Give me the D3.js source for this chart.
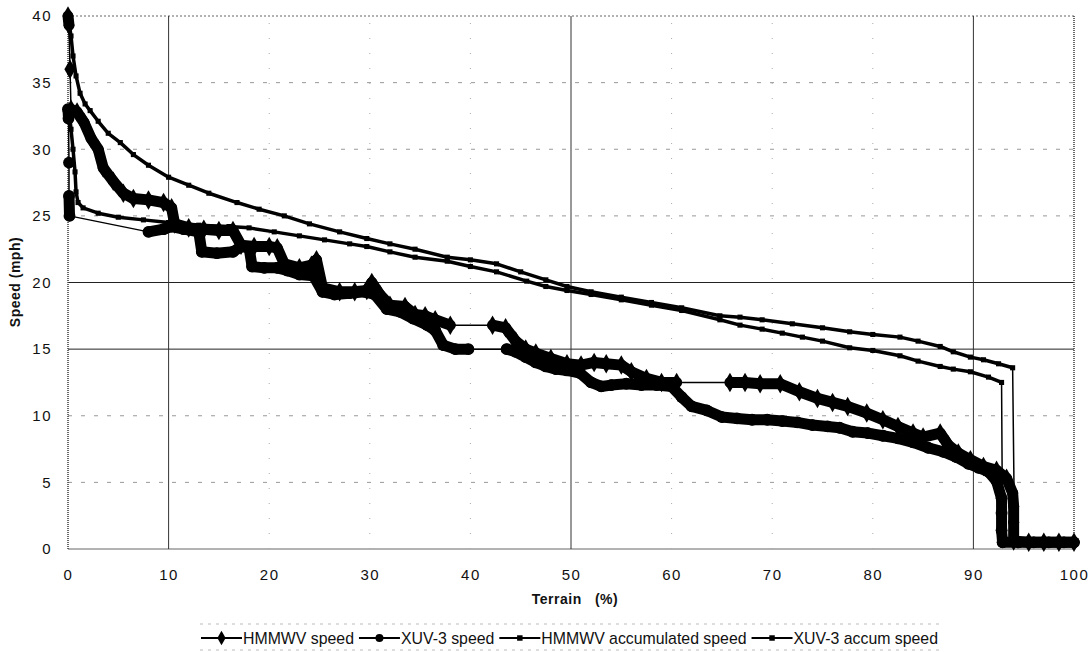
<!DOCTYPE html>
<html>
<head>
<meta charset="utf-8">
<script src="https://cdn.jsdelivr.net/npm/d3@7"></script>
<style>
  body { margin: 0; background: #fff; }
  svg { display: block; }
  .tick text { font-family: "Liberation Sans", Arial, sans-serif; font-size: 15px; letter-spacing: 1.5px; fill: #111; }
  .title { font-family: "Liberation Sans", Arial, sans-serif; font-size: 14px; font-weight: bold; fill: #111; white-space: pre; letter-spacing: 0.5px; }
  .legend text { font-family: "Liberation Sans Narrow", "Arial Narrow", "Liberation Sans", sans-serif; font-size: 17px; fill: #111; }
</style>
</head>
<body>
<div id="chart"></div>
<script>
// tick labels
var xTicks = [0, 10, 20, 30, 40, 50, 60, 70, 80, 90, 100];
var yTicks = [0, 5, 10, 15, 20, 25, 30, 35, 40];

// series: [terrain %, speed mph]
var hmmwvSpeed = [
  [0,40],[0.1,39.3],[0.2,36],[0.3,33],[0.9,32.8],[1.6,32],[2.3,30.8],[3,30],[3.5,28.6],[4.5,27.6],
  [5.5,26.7],[6.5,26.3],[8,26.2],[9.5,26],[10.3,25.6],[10.6,24.4],[12,24.1],[13.5,24],[15,23.9],[16.4,23.9],
  [17.2,22.8],[18.5,22.7],[20,22.7],[20.8,22.6],[21.5,21.4],[23,21.1],[24.2,21.3],[24.7,21.7],[25.3,19.6],[27,19.3],
  [28.5,19.3],[29.7,19.4],[30.2,20],[31,19.1],[32,18.3],[33.5,18.2],[34.5,17.6],[35.5,17.5],[36.5,17.2],[38,16.8],
  [42.2,16.8],[43.5,16.6],[44.5,15.6],[45.5,15],[46.5,14.7],[48,14.3],[49.6,13.9],[51,13.8],[52.3,14],[53.5,13.9],
  [55,13.8],[56,13.3],[57.5,12.8],[59,12.5],[60.5,12.5],[65.8,12.5],[67.3,12.5],[68.8,12.4],[70.8,12.4],[72.7,11.8],
  [74.5,11.3],[76,11],[77.5,10.7],[79.4,10.2],[81,9.7],[82.5,9.2],[84,8.7],[85,8.4],[86.7,8.7],[87.5,7.8],
  [88.5,7.2],[89.7,6.7],[91,6.2],[92.3,5.9],[93.3,5.3],[93.9,4.2],[94,3.2],[94,2],[94,0.6],[95.5,0.5],
  [97,0.5],[98.5,0.5],[100,0.5]
];
var xuvSpeed = [
  [0,33],[0.05,32.3],[0.1,29],[0.1,26.5],[0.15,25],[8,23.8],[9.5,24],[10.3,24.2],[11.5,24],[13,23.8],
  [13.3,22.3],[14.8,22.2],[16.4,22.3],[17.2,22.7],[18,22.6],[18.3,21.2],[19.5,21.1],[20.8,21.1],[21.8,20.9],[23,20.6],
  [24.4,20.5],[25.3,19.3],[26.5,19.1],[28,19.2],[29.5,19.3],[30.5,19.1],[31.7,18],[33,17.8],[34.3,17.3],[35.7,16.8],
  [36.5,16.4],[37.3,15.3],[38.5,15],[39.8,15],[43.6,15],[44.5,14.8],[45.5,14.4],[46.5,14],[47.5,13.7],[48.5,13.5],
  [49.6,13.4],[50.9,13.2],[52,12.5],[53,12.2],[54,12.3],[55.5,12.4],[57,12.3],[58.5,12.3],[60,12.2],[61,11.4],
  [62,10.7],[63.5,10.4],[65,9.9],[66.5,9.8],[68,9.7],[69.5,9.7],[71,9.6],[72.5,9.5],[74,9.3],[75.5,9.2],
  [76.7,9.1],[78,8.8],[79.5,8.7],[81,8.5],[82.5,8.3],[84,8],[85.5,7.6],[87,7.3],[88.3,6.9],[89.5,6.4],
  [90.5,6.1],[91.5,5.8],[92.3,5.1],[92.8,3.8],[92.8,2.7],[92.8,1.4],[92.9,0.5],[94.5,0.5],[96,0.5],[97.5,0.5],
  [99,0.5],[100,0.5]
];
var hmmwvAccum = [
  [0,40],[0.3,38.5],[0.5,37],[0.8,35.5],[1.2,34.2],[1.7,33.4],[2.2,32.9],[3,32.1],[4,31.2],[5.2,30.5],
  [6.5,29.6],[8,28.8],[10,27.9],[12,27.3],[14,26.7],[16.8,26],[19,25.5],[21.5,25],[24,24.4],[27,23.8],
  [29.7,23.3],[32,22.9],[34.5,22.5],[37.7,21.9],[40,21.7],[42.6,21.4],[45,20.8],[47.5,20.2],[49.6,19.7],[52,19.3],
  [55,18.9],[58,18.5],[61,18.1],[64.8,17.5],[66.8,17.4],[69,17.2],[72,16.9],[75,16.6],[77.7,16.3],[80,16.1],
  [82.7,15.9],[84.5,15.6],[86.7,15.2],[88,14.8],[89.7,14.4],[91,14.2],[92.5,13.9],[93.9,13.6],[94.1,0.5]
];
var xuvAccum = [
  [0.1,33],[0.3,31.5],[0.5,30],[0.7,28.3],[0.8,26.8],[1,26],[1.5,25.6],[3,25.2],[5,24.9],[7.5,24.7],
  [10,24.5],[13,24.3],[16,24.2],[18,24.1],[20.5,23.8],[23,23.5],[25.5,23.2],[28,22.9],[29.7,22.7],[32,22.3],
  [34.5,21.9],[37.7,21.6],[40,21.2],[42.6,20.8],[45.6,20.1],[47.5,19.7],[49.6,19.4],[52,19.1],[55,18.7],[58,18.3],
  [61,17.9],[64.8,17.2],[66.8,16.8],[69,16.5],[71,16.2],[73,15.9],[75,15.6],[77.7,15.1],[80,14.9],[82.7,14.5],
  [84.5,14.1],[86.7,13.7],[88,13.5],[89.7,13.3],[91.5,12.9],[92.8,12.5],[92.9,0.5]
];

var seriesNames = ["HMMWV speed", "XUV-3 speed", "HMMWV accumulated speed", "XUV-3 accum speed"];

var width = 1091, height = 652;
var margin = {top: 16, right: 17, bottom: 103, left: 68};

var svg = d3.select("#chart").append("svg")
    .attr("width", width)
    .attr("height", height);

var x = d3.scaleLinear().domain([0, 100]).range([margin.left, width - margin.right]);
var y = d3.scaleLinear().domain([0, 40]).range([height - margin.bottom, margin.top]);

// gridlines - the scan kept 15/20 and 10/50/90 dark, the rest only faint dashes
var grid = svg.append("g");
grid.selectAll(".hg")
  .data(yTicks)
  .enter().append("line")
    .attr("x1", x(0)).attr("x2", x(100))
    .attr("y1", d => y(d)).attr("y2", d => y(d))
    .attr("stroke", d => (d == 15 || d == 20) ? "#222" : (d == 40 ? "#666" : "#999"))
    .attr("stroke-width", d => d == 0 ? 1.6 : 1)
    .attr("stroke-dasharray", d => (d == 0 || d == 15 || d == 20) ? null : (d == 40 ? "2,2" : "4,9"));

grid.selectAll(".vg")
  .data(xTicks)
  .enter().append("line")
    .attr("x1", d => x(d)).attr("x2", d => x(d))
    .attr("y1", y(0)).attr("y2", y(40))
    .attr("stroke", d => (d == 10 || d == 50 || d == 90) ? "#333" : (d == 0 || d == 100 ? "#444" : "#aaa"))
    .attr("stroke-width", d => (d == 0 || d == 100) ? 1.6 : 1)
    .attr("stroke-dasharray", d => (d == 10 || d == 50 || d == 90) ? null : (d == 0 || d == 100 ? "1,1" : "1,14"));

// axes (labels only)
var xAxis = svg.append("g")
    .attr("transform", "translate(0," + (y(0) + 17) + ")")
    .call(d3.axisBottom(x).tickValues(xTicks).tickSize(0).tickFormat(d3.format("d")));
xAxis.select(".domain").remove();

var yAxis = svg.append("g")
    .attr("transform", "translate(" + (x(0) - 13) + ",0)")
    .call(d3.axisLeft(y).tickValues(yTicks).tickSize(0).tickFormat(d3.format("d")));
yAxis.select(".domain").remove();

svg.append("text").attr("class", "title")
    .attr("x", 575).attr("y", 604)
    .attr("text-anchor", "middle")
    .text("Terrain   (%)");

svg.append("text").attr("class", "title")
    .attr("transform", "translate(20,282) rotate(-90)")
    .attr("text-anchor", "middle")
    .text("Speed (mph)");

// draw a series: short segments come out thick (dense markers in the scan), long gaps thin
function drawSeries(data, thick, thin, maxLen, symbol, size) {
  var g = svg.append("g");
  var segs = d3.pairs(data);
  g.selectAll("line")
    .data(segs)
    .enter().append("line")
      .attr("x1", d => x(d[0][0])).attr("y1", d => y(d[0][1]))
      .attr("x2", d => x(d[1][0])).attr("y2", d => y(d[1][1]))
      .attr("stroke", "#000")
      .attr("stroke-linecap", "round")
      .attr("stroke-width", function(d) {
        var len = Math.hypot(x(d[1][0]) - x(d[0][0]), y(d[1][1]) - y(d[0][1]));
        return len > maxLen ? thin : thick;
      });
  g.selectAll("path")
    .data(data)
    .enter().append("path")
      .attr("transform", d => "translate(" + x(d[0]) + "," + y(d[1]) + ")")
      .attr("d", d3.symbol().type(symbol).size(size))
      .attr("fill", "#000");
}

drawSeries(hmmwvAccum, 3.5, 1.5, 60, d3.symbolSquare, 26);
drawSeries(xuvAccum, 3.5, 1.5, 60, d3.symbolSquare, 26);
drawSeries(hmmwvSpeed, 11, 1.5, 30, d3.symbolDiamond, 110);
drawSeries(xuvSpeed, 11, 1.5, 30, d3.symbolCircle, 110);

// legend - labels squeezed a bit so the row runs from 201 to 938 like the scan
var legendSymbols = [d3.symbolDiamond, d3.symbolCircle, d3.symbolSquare, d3.symbolSquare];
var legendSizes = [60, 50, 30, 30];
var sampleW = 41, gap = 5;
var legend = svg.append("g").attr("class", "legend");
var lx = 201, ly = 638;

var labels = seriesNames.map(function(name) {
  return legend.append("text").attr("y", ly + 6).text(name);
});
var natural = d3.sum(labels, t => t.node().getComputedTextLength());
var k = (938 - lx - seriesNames.length * (sampleW + 1) - (seriesNames.length - 1) * gap) / natural;

seriesNames.forEach(function(name, i) {
  legend.append("line")
    .attr("x1", lx).attr("x2", lx + sampleW)
    .attr("y1", ly).attr("y2", ly)
    .attr("stroke", "#000").attr("stroke-width", 2);
  legend.append("path")
    .attr("transform", "translate(" + (lx + sampleW / 2) + "," + ly + ")")
    .attr("d", d3.symbol().type(legendSymbols[i]).size(legendSizes[i]))
    .attr("fill", "#000");
  var w = labels[i].node().getComputedTextLength() * k;
  labels[i]
    .attr("x", lx + sampleW + 1)
    .attr("textLength", w)
    .attr("lengthAdjust", "spacingAndGlyphs");
  lx = lx + sampleW + 1 + w + gap;
});

// faint box edges left over from the legend frame
legend.selectAll(".frame")
  .data([ly - 14, ly + 12])
  .enter().append("line")
    .attr("x1", 200).attr("x2", 940)
    .attr("y1", d => d).attr("y2", d => d)
    .attr("stroke", "#bbb").attr("stroke-dasharray", "3,5");
</script>
</body>
</html>
